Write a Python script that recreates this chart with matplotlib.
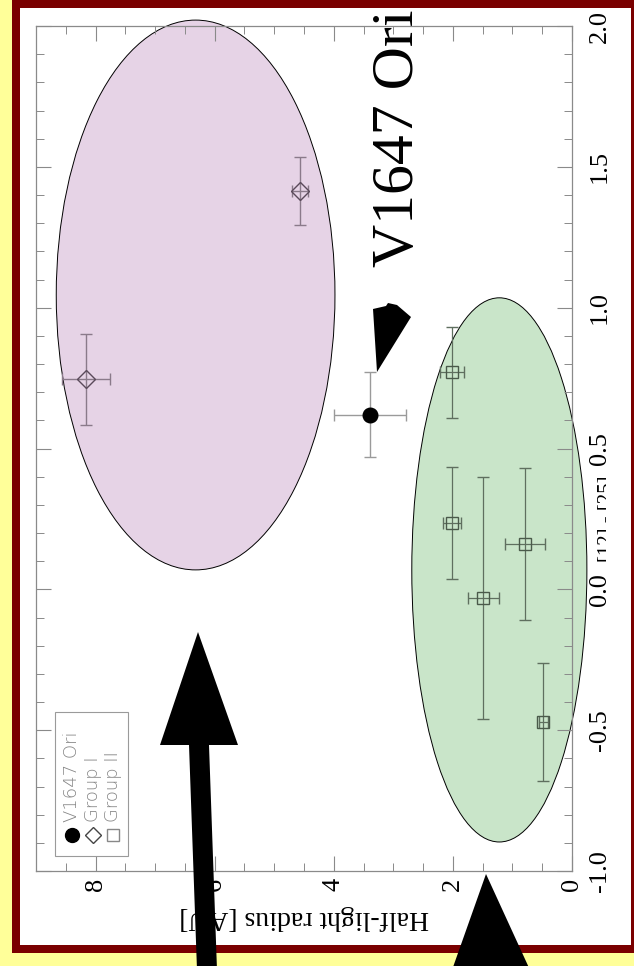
import matplotlib
matplotlib.use("Agg")
import matplotlib.pyplot as plt
from matplotlib.patches import Ellipse, Rectangle, Polygon
from matplotlib.transforms import Bbox

# ---- data -------------------------------------------------------------
v1647_radius = [3.39]
v1647_radius_err = [0.60]
v1647_color = [0.62]
v1647_color_err = [0.15]

group1_radius = [8.16, 4.57]
group1_radius_err = [0.41, 0.13]
group1_color = [0.745, 1.415]
group1_color_err = [0.16, 0.12]

group2_radius = [2.02, 2.02, 0.79, 1.49, 0.48]
group2_radius_err = [0.20, 0.15, 0.34, 0.26, 0.08]
group2_color = [0.77, 0.235, 0.16, -0.03, -0.47]
group2_color_err = [0.16, 0.20, 0.27, 0.43, 0.21]

# group envelopes: (centre radius, centre colour, half-width radius, half-height colour)
group1_zone = (6.32, 1.045, 2.34, 0.976)
group2_zone = (1.22, 0.069, 1.47, 0.966)

radius_ticks = [0, 2, 4, 6, 8]
color_ticks = [-1.0, -0.5, 0.0, 0.5, 1.0, 1.5, 2.0]
color_ticklabels = ["-1.0", "-0.5", "0.0", "0.5", "1.0", "1.5", "2.0"]

# ---- figure -----------------------------------------------------------
W, H = 634, 966
fig = plt.figure(figsize=(W / 100, H / 100), dpi=100, facecolor="#ffff99")


def fp(x, y):
    """pixel position (origin top-left) -> figure fraction"""
    return (x / W, 1 - y / H)


# framed white panel
fig.patches.append(Rectangle(fp(12, 953), (W - 12) / W, 953 / H,
                             transform=fig.transFigure, facecolor="#7a0000",
                             edgecolor="none", zorder=-2))
fig.patches.append(Rectangle(fp(20, 945), (631 - 20) / W, (945 - 8) / H,
                             transform=fig.transFigure, facecolor="white",
                             edgecolor="none", zorder=-1))

ax_l, ax_r, ax_t, ax_b = 36, 572, 26, 871
ax = fig.add_axes([ax_l / W, 1 - ax_b / H, (ax_r - ax_l) / W, (ax_b - ax_t) / H])
ax.set_zorder(1)
ax.set_facecolor("white")
ax.set_xlim(9, 0)
ax.set_ylim(-1, 2)

serif = "Liberation Serif"

# envelopes
for (cx, cy, hw, hh), fc in [(group1_zone, "#e6d3e6"), (group2_zone, "#c9e5c9")]:
    ax.add_patch(Ellipse((cx, cy), 2 * hw, 2 * hh, facecolor=fc,
                         edgecolor="black", linewidth=0.7, clip_on=False, zorder=1))

# measurements
ax.errorbar(v1647_radius, v1647_color, xerr=v1647_radius_err, yerr=v1647_color_err,
            fmt="o", color="black", ms=10.5, ecolor="#9a9a9a", elinewidth=1.0,
            capsize=4, zorder=3)
ax.errorbar(group1_radius, group1_color, xerr=group1_radius_err, yerr=group1_color_err,
            fmt="D", mfc="none", mec="#5a4a5a", ms=9, mew=1.0, ecolor="#8a7a8a",
            elinewidth=1.0, capsize=4, zorder=3)
ax.errorbar(group2_radius, group2_color, xerr=group2_radius_err, yerr=group2_color_err,
            fmt="s", mfc="none", mec="#4a5a4a", ms=8.5, mew=1.0, ecolor="#5f6f5f",
            elinewidth=0.9, capsize=4, zorder=3)

# axes styling
for s in ax.spines.values():
    s.set_color("#8a8a8a")
    s.set_linewidth(0.9)
    s.set_zorder(2)
ax.set_xticks(radius_ticks)
ax.set_xticks([v / 2 for v in range(0, 19)], minor=True)
ax.set_yticks(color_ticks)
ax.set_yticks([v / 10 for v in range(-10, 21)], minor=True)
ax.tick_params(which="both", direction="in", color="#8a8a8a", top=True, bottom=True,
               left=True, right=True, labelleft=False, labelright=True)
ax.tick_params(which="major", length=11, width=0.8)
ax.tick_params(which="minor", length=6, width=0.7)
ax.set_xticklabels([str(v) for v in radius_ticks], rotation=90, fontfamily=serif,
                   fontsize=19)
ax.set_yticklabels(color_ticklabels, rotation=90, fontfamily=serif, fontsize=19,
                   va="center")
ax.tick_params(axis="x", which="major", pad=5)
ax.tick_params(axis="y", which="major", pad=12)

ax.set_xlabel("Half-light radius [AU]", rotation=180, fontfamily=serif, fontsize=20,
              labelpad=10)

# colour-index label, trimmed at the right edge of the chart picture
xl = fig.text(*fp(607, 519), "[12] - [25]", rotation=90, fontfamily=serif,
              fontsize=15, ha="center", va="center", zorder=1)
xl.set_clip_box(Bbox([[0, 0], [606, H]]))
xl.set_clip_on(True)


# legend, drawn in axes fractions
def af(x, y):
    return ((x - ax_l) / (ax_r - ax_l), (ax_b - y) / (ax_b - ax_t))


lx0, ly0 = af(55, 856)
lx1, ly1 = af(128, 712)
ax.add_patch(Rectangle((lx0, ly0), lx1 - lx0, ly1 - ly0, transform=ax.transAxes,
                       facecolor="white", edgecolor="#9a9a9a", linewidth=0.8, zorder=4))
legend_items = [("o", "black", "black", 10, "V1647 Ori", 72),
                ("D", "none", "#444444", 8.5, "Group I", 93),
                ("s", "none", "#888888", 8.5, "Group II", 113)]
for mk, mfc, mec, ms, label, xp in legend_items:
    mx, my = af(xp, 835)
    ax.plot([mx], [my], marker=mk, mfc=mfc, mec=mec, ms=ms, mew=1.0,
            transform=ax.transAxes, zorder=5, clip_on=False, linestyle="none")
    tx, ty = af(xp, 822)
    ax.text(tx, ty, label, transform=ax.transAxes, rotation=90, ha="center",
            va="bottom", fontsize=13, color="#858585", fontfamily="DejaVu Sans",
            fontweight="light", zorder=5)

# big label with pointer
fig.text(*fp(399, 138), "V1647 Ori", rotation=90, fontfamily=serif, fontsize=43,
         ha="center", va="center", zorder=10)


def poly(pts, **kw):
    fig.patches.append(Polygon([fp(x, y) for x, y in pts], closed=True,
                               transform=fig.transFigure, facecolor="black",
                               edgecolor="none", zorder=10, **kw))


poly([(373, 309), (386, 306), (388, 303), (397, 305), (411, 317), (377, 372)])
poly([(197, 970), (217, 970), (209, 745), (238, 745), (198, 632), (160, 745), (189, 745)])
poly([(486, 874), (530, 970), (452, 970)])

fig.savefig("out.png", dpi=100, facecolor=fig.get_facecolor())
